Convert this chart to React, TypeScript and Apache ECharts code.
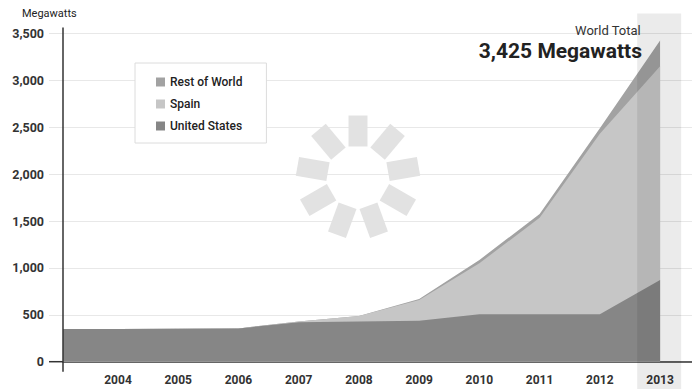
import React, { useEffect, useRef } from "react";
import * as echarts from "echarts";

const years = [2003, 2004, 2005, 2006, 2007, 2008, 2009, 2010, 2011, 2012, 2013];
const unitedStates = [350, 350, 352, 355, 420, 428, 438, 505, 505, 505, 870];
const spain = [0, 0, 0, 0, 10, 60, 220, 545, 1030, 1925, 2280];
const restOfWorld = [0, 0, 0, 0, 0, 0, 10, 35, 40, 60, 275];
const xLabelYears = [2004, 2005, 2006, 2007, 2008, 2009, 2010, 2011, 2012, 2013];
const yMax = 3500;
const yStep = 500;
const highlightRange = [2012.62, 2013.35];
const totalLabel = "3,425 Megawatts";

const FONT = "Roboto, 'Noto Sans', sans-serif";

export default function App() {
  const ref = useRef<HTMLDivElement>(null);
  useEffect(() => {
    document.body.style.margin = "0";
    const chart = echarts.init(ref.current!, null, { renderer: "svg" });
    // cumulative (stacked) tops built from the named arrays
    const usTop = years.map((y, i) => [y, unitedStates[i]]);
    const spainTop = years.map((y, i) => [y, unitedStates[i] + spain[i]]);
    const worldTop = years.map((y, i) => [y, unitedStates[i] + spain[i] + restOfWorld[i]]);
    const area = (name: string, data: number[][], color: string) => ({
      name,
      type: "line",
      data,
      symbol: "none",
      lineStyle: { width: 0 },
      areaStyle: { color, opacity: 1 },
      itemStyle: { color },
    });
    chart.setOption({
      animation: false,
      textStyle: { fontFamily: FONT },
      grid: { left: 63, right: 0, top: 33.5, bottom: 27.3 },
      legend: {
        orient: "vertical",
        left: 135,
        top: 63,
        padding: [12, 24, 10, 21],
        backgroundColor: "#fff",
        borderColor: "#dcdcdc",
        borderWidth: 1,
        itemWidth: 9,
        itemHeight: 9,
        itemGap: 8,
        icon: "rect",
        data: ["Rest of World", "Spain", "United States"],
        textStyle: { fontSize: 12, fontWeight: 500, color: "#222", lineHeight: 14, fontFamily: FONT },
      },
      xAxis: {
        type: "value",
        min: 2003.087,
        max: 2013.53,
        axisLine: { show: true, lineStyle: { color: "#333", width: 1.5 } },
        axisTick: { show: false },
        splitLine: { show: false },
        axisLabel: {
          customValues: xLabelYears,
          formatter: (v: number) => String(v),
          fontSize: 12,
          fontWeight: "bold",
          color: "#333",
          margin: 12,
        },
      },
      yAxis: {
        type: "value",
        min: 0,
        max: yMax,
        interval: yStep,
        axisLine: { show: false },
        axisTick: { show: true, length: 14, lineStyle: { color: "#e6e6e6" } },
        splitLine: { show: true, lineStyle: { color: "#e8e8e8" } },
        axisLabel: {
          formatter: (v: number) => v.toLocaleString("en-US"),
          fontSize: 12.5,
          fontWeight: "bold",
          color: "#333",
          margin: 19,
        },
      },
      series: [
        area("Rest of World", worldTop, "#a2a2a2"),
        area("Spain", spainTop, "#c6c6c6"),
        area("United States", usTop, "#868686"),
      ],
    });

    const px = (v: number) => chart.convertToPixel({ xAxisIndex: 0 }, v) as number;
    const py = (v: number) => chart.convertToPixel({ yAxisIndex: 0 }, v) as number;
    const x0 = px(2003.087);
    const yTop = py(yMax);
    const yZero = py(0);
    const bx0 = px(highlightRange[0]);
    const bx1 = px(highlightRange[1]);
    const H = chart.getHeight();

    const cx = 358, cy = 177, r = 46;
    const angles = [90, 50, 10, -30, -70, -110, -150, 170, 130];
    const logo = angles.map((a) => ({
      type: "rect",
      x: cx + r * Math.cos((a * Math.PI) / 180),
      y: cy - r * Math.sin((a * Math.PI) / 180),
      rotation: ((a - 90) * Math.PI) / 180,
      shape: { x: -9.5, y: -15.5, width: 19, height: 31 },
      style: { fill: "#e2e2e2" },
      z: 1,
    }));

    chart.setOption({
      graphic: [
        ...logo,
        {
          type: "line",
          shape: { x1: x0, y1: yTop - 6, x2: x0, y2: yZero + 10 },
          style: { stroke: "#333", lineWidth: 1.5 },
          z: 10,
        },
        {
          type: "line",
          shape: { x1: x0 - 14, y1: yZero, x2: x0, y2: yZero },
          style: { stroke: "#333", lineWidth: 1.5 },
          z: 10,
        },
        {
          type: "rect",
          shape: { x: bx0, y: yTop - 20, width: bx1 - bx0, height: H - (yTop - 20) },
          style: { fill: "rgba(0,0,0,0.08)" },
          z: 20,
        },
        {
          type: "text",
          left: 22,
          top: 8,
          style: { text: "Megawatts", font: `11px ${FONT}`, fill: "#222" },
        },
        {
          type: "text",
          right: 51,
          top: 24,
          style: { text: "World Total", font: `13px ${FONT}`, fill: "#333" },
          z: 21,
        },
        {
          type: "text",
          right: 50,
          top: 40,
          style: { text: totalLabel, font: `bold 21px ${FONT}`, fill: "#222" },
          z: 21,
        },
      ],
    });
    return () => chart.dispose();
  }, []);
  return <div ref={ref} style={{ width: 692, height: 389 }} />;
}
